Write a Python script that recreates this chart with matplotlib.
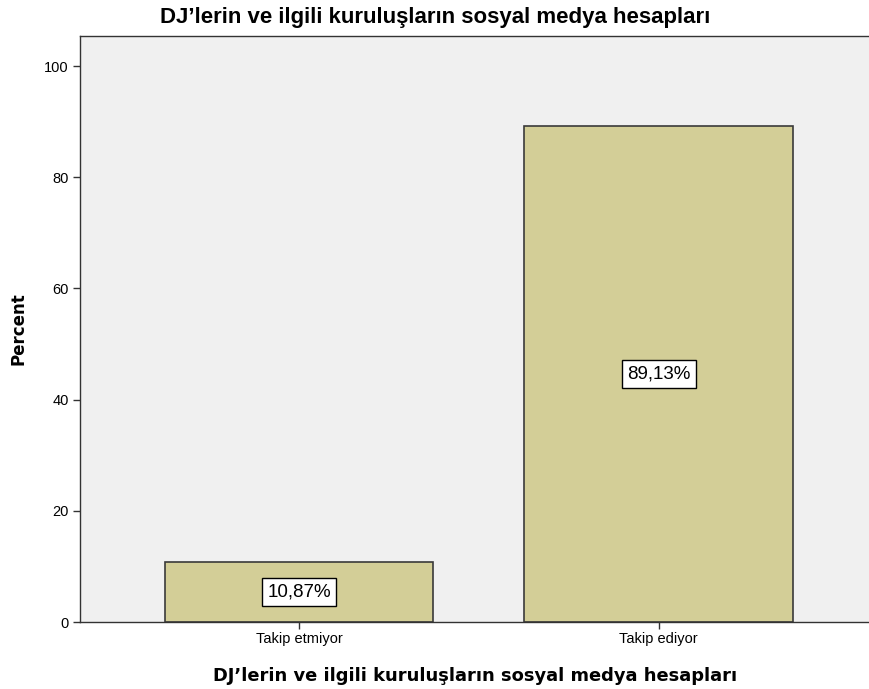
import matplotlib
matplotlib.use("Agg")
import matplotlib.pyplot as plt

categories = ["Takip etmiyor", "Takip ediyor"]
percent = [10.87, 89.13]
labels = ["10,87%", "89,13%"]
title = "DJ\u2019lerin ve ilgili kuruluşların sosyal medya hesapları"

fig = plt.figure(figsize=(8.7, 6.89), dpi=100)
ax = fig.add_axes([80/870, 67/689, 790/870, 586/689])
ax.set_facecolor("#F0F0F0")

x = list(range(len(categories)))
ax.bar(x, percent, width=0.748, color="#D3CE97", edgecolor="#3A3A3A", linewidth=1.2, zorder=2)
for xi, v, lab in zip(x, percent, labels):
    ax.text(xi, v/2, lab, ha="center", va="center", fontsize=13.5, family="Liberation Sans",
            bbox=dict(boxstyle="square,pad=0.28", fc="white", ec="black", lw=1), zorder=3)

ax.set_xlim(-0.609, 1.588)
ax.set_ylim(0, 105.4)
ax.set_yticks([0, 20, 40, 60, 80, 100])
ax.set_xticks(x)
ax.set_xticklabels(categories)
for lab in ax.get_xticklabels() + ax.get_yticklabels():
    lab.set_family("Liberation Sans")
    lab.set_fontsize(10.5)
ax.tick_params(axis="both", direction="out", length=5, width=1, color="#333333", pad=3)
ax.tick_params(axis="x", pad=2)
ax.spines["right"].set_visible(False)
for s in ["left", "bottom", "top"]:
    ax.spines[s].set_color("#333333")
    ax.spines[s].set_linewidth(1)

ax.set_ylabel("Percent", fontsize=12, fontweight="bold", family="DejaVu Sans", labelpad=12)
ax.set_xlabel(title, fontsize=12.9, fontweight="bold", family="DejaVu Sans", labelpad=15)
fig.text(0.5, 1 - 18/689, title, ha="center", va="center", fontsize=16, fontweight="bold",
         family="Liberation Sans")

fig.savefig("out.png", dpi=100, facecolor="white")
